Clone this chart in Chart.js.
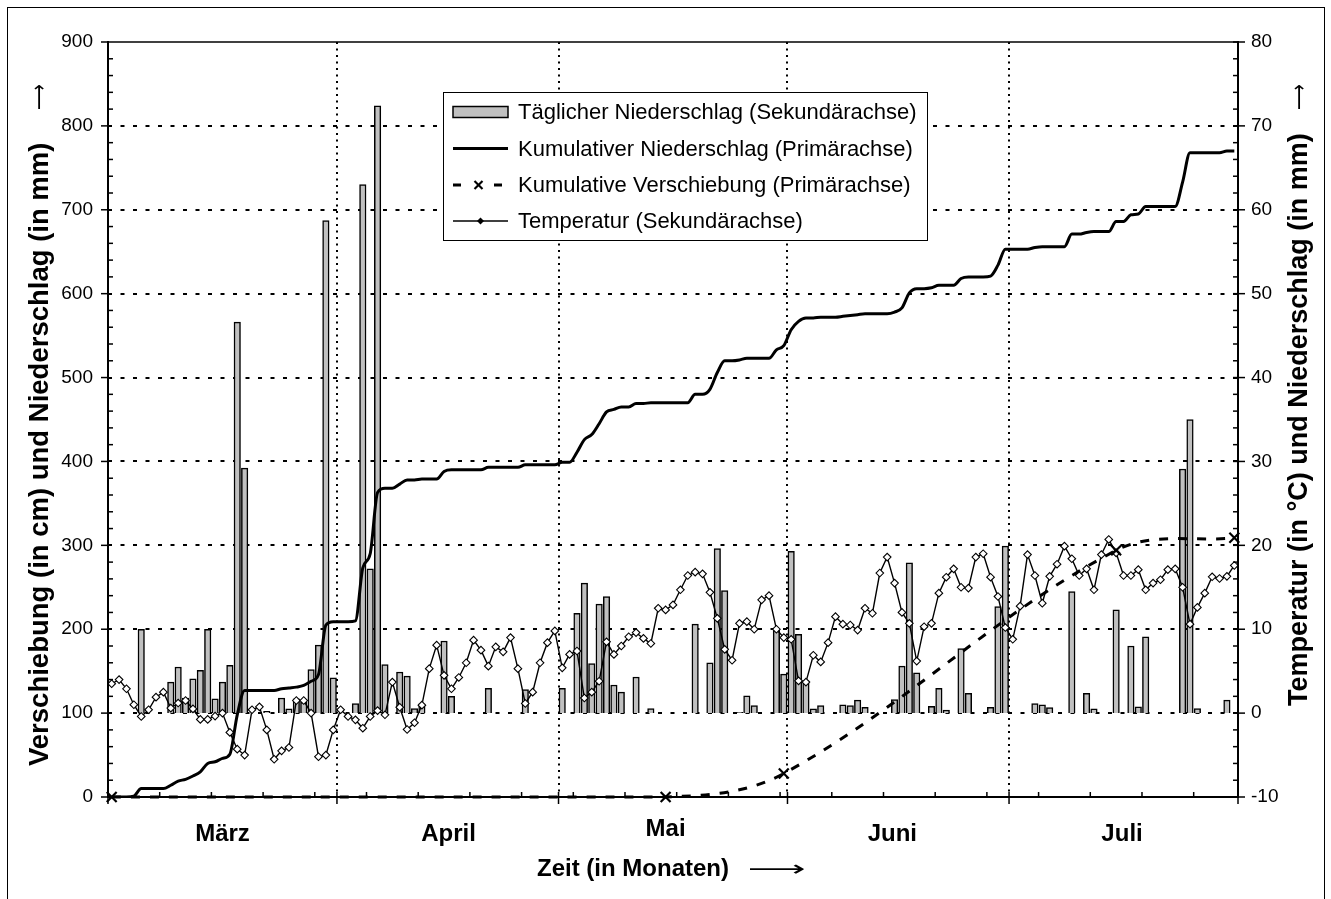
<!DOCTYPE html>
<html>
<head>
<meta charset="utf-8">
<script src="https://cdn.jsdelivr.net/npm/chart.js@4.4.1/dist/chart.umd.min.js"></script>
<style>
  html, body { margin: 0; padding: 0; background: #fff; }
  #wrap { position: relative; width: 1331px; height: 899px; }
  #frame { position: absolute; left: 7px; top: 7px; width: 1318px; height: 900px; border: 1px solid #000; box-sizing: border-box; pointer-events: none; }
</style>
</head>
<body>
<div id="wrap">
  <canvas id="chart"></canvas>
  <div id="frame"></div>
</div>
<script>
// day 0 = 1. März, one value per day
const monthNames = ["März", "April", "Mai", "Juni", "Juli"];
const monthEdges = [-0.5, 30.5, 60.5, 91.5, 121.5, 152.5];
const monthLabelDays = [15, 45.6, 75, 105.7, 136.8];

const temperature = [
  3.5, 4.0, 2.9, 1.0, -0.4, 0.4, 1.9, 2.5, 0.6, 1.2,
  1.5, 0.5, -0.75, -0.75, -0.35, 0, -2.3, -4.3, -5.0, 0.4,
  0.75, -2.0, -5.5, -4.5, -4.1, 1.5, 1.5, 0, -5.2, -5.0,
  -2.0, 0.4, -0.4, -0.8, -1.8, -0.4, 0.3, -0.2, 3.7, 0.7,
  -1.95, -1.15, 0.95, 5.3, 8.1, 4.5, 2.9, 4.25, 6.0, 8.7,
  7.5, 5.6, 7.9, 7.3, 9.0, 5.3, 1.15, 2.5, 6.0, 8.4,
  9.8, 5.4, 7.0, 7.4, 1.8, 2.5, 3.8, 8.5, 7.0, 8.0,
  9.1, 9.6, 8.9, 8.3, 12.5, 12.3, 12.9, 14.7, 16.4, 16.8,
  16.6, 14.4, 11.3, 7.6, 6.3, 10.7, 10.9, 10.0, 13.5, 14.0,
  10.0, 9.0, 8.8, 3.85, 3.7, 6.9, 6.1, 8.4, 11.5, 10.6,
  10.5, 9.9, 12.5, 11.9, 16.7, 18.6, 15.5, 12.0, 10.7, 6.2,
  10.3, 10.7, 14.3, 16.2, 17.2, 15.0, 14.9, 18.6, 19.0, 16.2,
  13.9, 10.2, 8.8, 12.75, 18.9, 16.4, 13.1, 16.3, 17.75, 19.9,
  18.4, 16.4, 17.2, 14.7, 18.9, 20.7, 19.1, 16.4, 16.4, 17.1,
  14.7, 15.5, 15.9, 17.1, 17.2, 15.0, 10.6, 12.6, 14.3, 16.25,
  16.05, 16.3, 17.6
];

const rainDays = [
  4, 8, 9, 10, 11, 12, 13, 14, 15, 16, 17, 18, 21, 23, 24, 25, 26, 27, 28, 29,
  30, 33, 34, 35, 36, 37, 39, 40, 41, 42, 45, 46, 51, 56, 61, 63, 64, 65, 66, 67,
  68, 69, 71, 73, 79, 81, 82, 83, 85, 86, 87, 90, 91, 92, 93, 94, 95, 96, 99, 100,
  101, 102, 106, 107, 108, 109, 111, 112, 113, 115, 116, 119, 120, 121, 125, 126, 127, 130, 132, 133,
  136, 138, 139, 140, 145, 146, 147, 151
];
const rainMm = [
  10, 3.7, 5.5, 1.8, 4.1, 5.1, 10, 1.7, 3.7, 5.7, 46.6, 29.2, 0.2, 1.8, 0.5, 1.7, 1.3, 5.2, 8.1, 58.7,
  4.2, 1.15, 63, 17.2, 72.4, 5.8, 4.9, 4.4, 0.55, 1.1, 8.6, 2, 2.95, 2.8, 2.95, 11.9, 15.5, 5.9, 13, 13.9,
  3.35, 2.5, 4.3, 0.55, 10.6, 6, 19.6, 14.6, 0.1, 2.05, 0.9, 9.9, 4.65, 19.3, 9.4, 3.85, 0.5, 0.9, 1, 0.9,
  1.55, 0.7, 1.6, 5.6, 17.9, 4.8, 0.8, 2.95, 0.35, 7.7, 2.35, 0.7, 12.7, 19.9, 1.15, 1, 0.65, 14.5, 2.35, 0.5,
  12.3, 8, 0.75, 9.1, 29.1, 35, 0.55, 1.55
];

const cumRain = [
  0, 0, 0, 1, 10, 10, 10, 10, 14, 19,
  21, 25, 30, 40, 42, 46, 51, 98, 127, 127,
  127, 127, 127, 129, 130, 131, 133, 138, 146, 205,
  209, 209, 209, 210, 273, 290, 363, 368, 368, 373,
  378, 378, 379, 379, 379, 388, 390, 390, 390, 390,
  390, 393, 393, 393, 393, 393, 396, 396, 396, 396,
  396, 399, 399, 411, 426, 432, 445, 459, 462, 465,
  465, 469, 469, 470, 470, 470, 470, 470, 470, 480,
  480, 486, 506, 520, 520, 521, 523, 523, 523, 523,
  533, 538, 557, 567, 571, 571, 572, 572, 572, 573,
  574, 575, 576, 576, 576, 576, 578, 583, 601, 606,
  606, 607, 610, 610, 610, 618, 620, 620, 620, 621,
  634, 653, 653, 653, 653, 655, 656, 656, 656, 656,
  671, 671, 673, 674, 674, 674, 686, 686, 694, 695,
  704, 704, 704, 704, 704, 733, 768, 768, 768, 768,
  768, 770, 770
];

const shiftDays = [0, 75, 91, 136, 152];
const shiftCm = [0, 0, 28, 294, 309];

const seriesLabels = [
  "Täglicher Niederschlag (Sekundärachse)",
  "Kumulativer Niederschlag (Primärachse)",
  "Kumulative Verschiebung (Primärachse)",
  "Temperatur (Sekundärachse)"
];
const leftTitle = "Verschiebung (in cm) und Niederschlag (in mm)";
const rightTitle = "Temperatur (in °C) und Niederschlag (in mm)";
const bottomTitle = "Zeit (in Monaten)";

const FONT = "'Liberation Sans', Arial, Helvetica, sans-serif";
const BAR_FILL = "#c0c0c0";

function line(ctx, x1, y1, x2, y2) {
  ctx.beginPath();
  ctx.moveTo(x1, y1);
  ctx.lineTo(x2, y2);
  ctx.stroke();
}

// long arrow glyph, stretched to a given length
function arrow(ctx, x, y, len) {
  ctx.save();
  ctx.font = "22px 'DejaVu Sans'";
  const w = ctx.measureText("⟶").width;
  ctx.translate(x, y);
  ctx.scale(len / w, 1);
  ctx.textAlign = "left";
  ctx.textBaseline = "middle";
  ctx.fillText("⟶", 0, 0);
  ctx.restore();
}

const gridPlugin = {
  id: "dottedGrid",
  beforeDatasetsDraw(chart) {
    const { ctx, chartArea: a, scales } = chart;
    ctx.save();
    ctx.strokeStyle = "#000";
    ctx.lineWidth = 2;
    ctx.setLineDash([4, 8.5]);
    for (let v = 100; v < 900; v += 100) {
      const py = Math.round(scales.y.getPixelForValue(v));
      line(ctx, a.left, py, a.right, py);
    }
    ctx.setLineDash([2, 4.5]);
    monthEdges.slice(1, -1).forEach(d => {
      const px = Math.round(scales.x.getPixelForValue(d));
      line(ctx, px, a.top, px, a.bottom);
    });
    ctx.restore();
  },
  afterDatasetsDraw(chart) {
    const { ctx, chartArea: a, scales } = chart;
    ctx.save();
    ctx.strokeStyle = "#000";
    ctx.setLineDash([]);
    // plot frame
    ctx.lineWidth = 2;
    line(ctx, a.left, a.top - 1, a.left, a.bottom + 1);
    line(ctx, a.right, a.top - 1, a.right, a.bottom + 1);
    line(ctx, a.left - 1, a.bottom, a.right + 1, a.bottom);
    ctx.lineWidth = 1.5;
    line(ctx, a.left, a.top, a.right, a.top);
    // tick marks
    ctx.lineWidth = 1.5;
    for (let v = 0; v <= 900; v += 20) {
      const py = scales.y.getPixelForValue(v);
      if (v % 100 === 0) line(ctx, a.left - 7, py, a.left, py);
      else line(ctx, a.left, py, a.left + 5, py);
    }
    for (let v = -10; v <= 80; v += 2) {
      const py = scales.y2.getPixelForValue(v);
      if (v % 10 === 0) line(ctx, a.right - 5, py, a.right + 7, py);
      else line(ctx, a.right - 5, py, a.right, py);
    }
    monthEdges.forEach(d => {
      const px = scales.x.getPixelForValue(d);
      line(ctx, px, a.bottom - 5, px, a.bottom + 7);
    });
    for (let d = monthEdges[0] + 7; d < monthEdges[5]; d += 7) {
      const px = scales.x.getPixelForValue(d);
      line(ctx, px, a.bottom - 5, px, a.bottom);
    }
    ctx.restore();
  },
  afterDraw(chart) {
    const { ctx, scales } = chart;
    ctx.save();
    ctx.fillStyle = "#000";
    ctx.textBaseline = "middle";
    // month names
    ctx.font = "bold 24px " + FONT;
    ctx.textAlign = "center";
    monthNames.forEach((m, i) => {
      const px = scales.x.getPixelForValue(monthLabelDays[i]);
      ctx.fillText(m, px, m === "Mai" ? 829 : 834);
    });
    // x title with arrow
    ctx.textAlign = "left";
    ctx.fillText(bottomTitle, 537, 869);
    arrow(ctx, 748, 870, 58);
    // y titles, read bottom to top
    [[leftTitle, 40, 766, 27.5], [rightTitle, 1300, 706, 27]].forEach(([t, cx, y0, fs]) => {
      ctx.save();
      ctx.translate(cx, y0);
      ctx.rotate(-Math.PI / 2);
      ctx.font = "bold " + fs + "px " + FONT;
      ctx.textAlign = "left";
      ctx.fillText(t, 0, 0);
      arrow(ctx, y0 - 110, 0, 26);
      ctx.restore();
    });

    // legend box
    const bx = 443.5, by = 92.5, bw = 484, bh = 148;
    ctx.fillStyle = "#fff";
    ctx.fillRect(bx, by, bw, bh);
    ctx.strokeStyle = "#000";
    ctx.lineWidth = 1;
    ctx.strokeRect(bx, by, bw, bh);
    const rows = [112, 148.5, 185, 221];
    const s0 = 453, s1 = 508, sm = 480.5;
    // bars
    ctx.fillStyle = BAR_FILL;
    ctx.fillRect(s0, rows[0] - 5.5, s1 - s0, 11);
    ctx.lineWidth = 1.5;
    ctx.strokeRect(s0, rows[0] - 5.5, s1 - s0, 11);
    // cumulative rain
    ctx.lineWidth = 3;
    line(ctx, s0, rows[1], s1, rows[1]);
    // displacement
    line(ctx, s0, rows[2], s0 + 8, rows[2]);
    line(ctx, s1 - 14, rows[2], s1 - 6, rows[2]);
    ctx.lineWidth = 2.2;
    line(ctx, sm - 6, rows[2] - 4, sm + 2, rows[2] + 4);
    line(ctx, sm - 6, rows[2] + 4, sm + 2, rows[2] - 4);
    // temperature
    ctx.lineWidth = 1.3;
    line(ctx, s0, rows[3], s1, rows[3]);
    ctx.fillStyle = "#000";
    ctx.beginPath();
    ctx.moveTo(sm, rows[3] - 3.5);
    ctx.lineTo(sm + 3.5, rows[3]);
    ctx.lineTo(sm, rows[3] + 3.5);
    ctx.lineTo(sm - 3.5, rows[3]);
    ctx.closePath();
    ctx.fill();
    ctx.font = "22px " + FONT;
    ctx.textAlign = "left";
    seriesLabels.forEach((t, i) => ctx.fillText(t, 518, rows[i] + 1));
    ctx.restore();
  }
};

new Chart(document.getElementById("chart"), {
  type: "line",
  data: {
    datasets: [
      {
        type: "bar",
        label: seriesLabels[0],
        data: rainDays.map((d, i) => ({ x: d, y: rainMm[i] })),
        yAxisID: "y2",
        backgroundColor: BAR_FILL,
        borderColor: "#000",
        borderWidth: 1.5,
        barThickness: 6.5,
        order: 4
      },
      {
        label: seriesLabels[1],
        data: cumRain.map((v, i) => ({ x: i, y: v })),
        yAxisID: "y",
        borderColor: "#000",
        borderWidth: 3,
        pointRadius: 0,
        cubicInterpolationMode: "monotone",
        order: 2
      },
      {
        label: seriesLabels[2],
        data: shiftDays.map((d, i) => ({ x: d, y: shiftCm[i] })),
        yAxisID: "y",
        borderColor: "#000",
        borderWidth: 3,
        borderDash: [9, 10],
        tension: 0.35,
        pointStyle: "crossRot",
        pointRadius: 7,
        pointBorderWidth: 2.2,
        pointBorderColor: "#000",
        clip: false,
        order: 1
      },
      {
        label: seriesLabels[3],
        data: temperature.map((v, i) => ({ x: i, y: v })),
        yAxisID: "y2",
        borderColor: "#000",
        borderWidth: 1.4,
        pointStyle: "rectRot",
        pointRadius: 3.8,
        pointBackgroundColor: "#fff",
        pointBorderColor: "#000",
        pointBorderWidth: 1.1,
        tension: 0,
        clip: false,
        order: 3
      }
    ]
  },
  options: {
    responsive: true,
    maintainAspectRatio: false,
    animation: false,
    events: [],
    layout: { padding: { top: 42, left: 0, right: 0, bottom: 0 } },
    plugins: { legend: { display: false }, tooltip: { enabled: false } },
    scales: {
      x: {
        type: "linear",
        min: monthEdges[0],
        max: monthEdges[5],
        offset: false,
        grid: { display: false, offset: false, drawTicks: false },
        border: { display: false },
        ticks: { display: false },
        afterFit(s) { s.height = 102; }
      },
      y: {
        type: "linear",
        position: "left",
        min: 0,
        max: 900,
        ticks: { stepSize: 100, color: "#000", font: { family: FONT, size: 19 }, padding: 15 },
        grid: { display: false, drawTicks: false },
        border: { display: false },
        afterFit(s) { s.width = 108; }
      },
      y2: {
        type: "linear",
        position: "right",
        min: -10,
        max: 80,
        ticks: { stepSize: 10, color: "#000", font: { family: FONT, size: 19 }, padding: 13 },
        grid: { display: false, drawTicks: false },
        border: { display: false },
        afterFit(s) { s.width = 93; }
      }
    }
  },
  plugins: [gridPlugin]
});
</script>
</body>
</html>
